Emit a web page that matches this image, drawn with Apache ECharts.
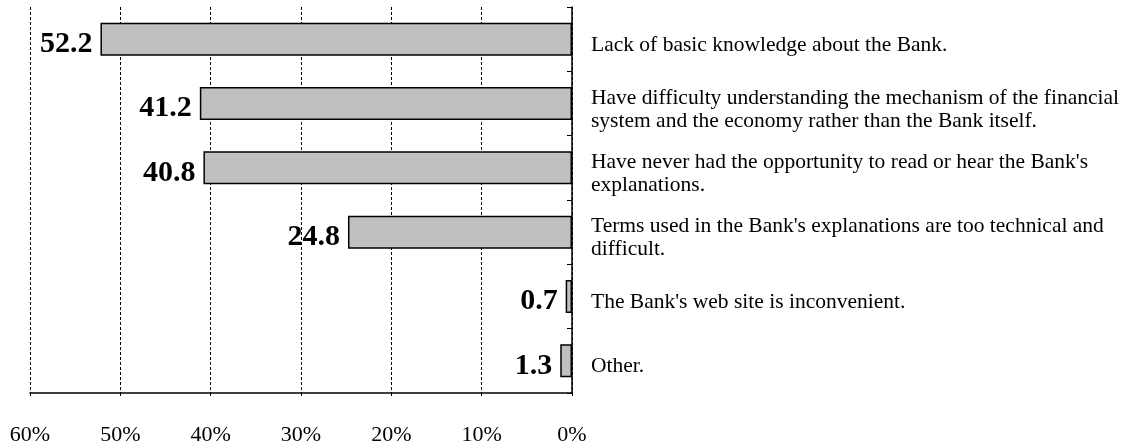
<!DOCTYPE html>
<html>
<head>
<meta charset="utf-8">
<script src="https://cdn.jsdelivr.net/npm/echarts@6/dist/echarts.min.js"></script>
<style>
  html, body { margin: 0; padding: 0; background: #fff; }
  #chart { width: 1129px; height: 448px; }
</style>
</head>
<body>
<div id="chart"></div>
<script type="text/javascript">
// reasons, top to bottom
var categories = [
    "Lack of basic knowledge about the Bank.",
    "Have difficulty understanding the mechanism of the financial\nsystem and the economy rather than the Bank itself.",
    "Have never had the opportunity to read or hear the Bank's\nexplanations.",
    "Terms used in the Bank's explanations are too technical and\ndifficult.",
    "The Bank's web site is inconvenient.",
    "Other."
];
var values = [52.2, 41.2, 40.8, 24.8, 0.7, 1.3];
var tickValues = [0, 10, 20, 30, 40, 50, 60];

var serif = '"Liberation Serif", "Times New Roman", serif';
var myChart = echarts.init(document.getElementById('chart'));

var option = {
    animation: false,
    grid: {
        left: 30,
        right: 557,
        top: 7,
        bottom: 55
    },
    xAxis: {
        type: 'value',
        inverse: true,
        min: tickValues[0],
        max: tickValues[tickValues.length - 1],
        interval: tickValues[1] - tickValues[0],
        axisLine: { show: true, lineStyle: { color: '#000', width: 1.5 } },
        axisTick: { show: true, length: 3, lineStyle: { color: '#000' } },
        axisLabel: {
            margin: 31,
            formatter: '{value}%',
            fontFamily: serif,
            fontSize: 22,
            color: '#000'
        },
        splitLine: {
            show: true,
            lineStyle: { color: '#000', width: 1, type: [3, 2] }
        }
    },
    yAxis: {
        type: 'category',
        inverse: true,
        position: 'right',
        data: categories,
        axisLine: { show: true, lineStyle: { color: '#000', width: 1.5 } },
        axisTick: { show: true, inside: true, length: 5, lineStyle: { color: '#000' } },
        axisLabel: {
            margin: 19,
            align: 'left',
            // small blank first line pushes the text a bit below the band centre
            formatter: function (v) {
                return '{s| }\n' + v.split('\n').map(function (l) {
                    return '{t|' + l + '}';
                }).join('\n');
            },
            rich: {
                s: { fontSize: 1, lineHeight: 12 },
                t: { fontFamily: serif, fontSize: 21.5, lineHeight: 23, color: '#000' }
            }
        },
        splitLine: { show: false }
    },
    series: [
        {
            type: 'bar',
            data: values,
            barWidth: 33,
            itemStyle: {
                color: '#c0c0c0',
                borderColor: '#000',
                borderWidth: 1.5
            },
            label: {
                show: true,
                position: 'left',
                distance: 8,
                formatter: function (p) { return p.value.toFixed(1); },
                fontFamily: serif,
                fontWeight: 'bold',
                fontSize: 30,
                color: '#000',
                offset: [0, 5]
            }
        }
    ]
};
myChart.setOption(option, true);
</script>
</body>
</html>
